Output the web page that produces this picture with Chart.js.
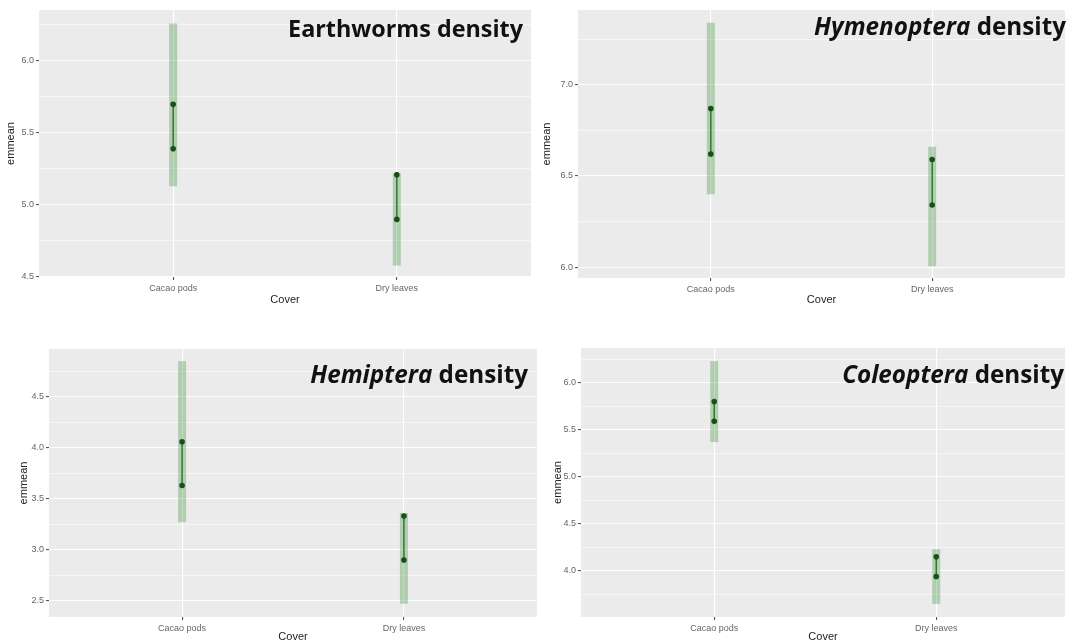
<!DOCTYPE html>
<html>
<head>
<meta charset="utf-8">
<script src="https://cdn.jsdelivr.net/npm/chart.js@4.4.1/dist/chart.umd.min.js"></script>
<style>
  html, body { margin: 0; padding: 0; background: #fff; }
  #wrap { position: relative; width: 1069px; height: 644px; overflow: hidden; }
  canvas { position: absolute; }
  .ttl { position: absolute; font-family: 'Open Sans', Lato, sans-serif; font-weight: bold; color: #111;
         white-space: nowrap; line-height: 1; }
  .ttl i { font-style: italic; }
</style>
</head>
<body>
<div id="wrap">
  <canvas id="c1" width="535" height="310" style="left:0;top:0"></canvas>
  <canvas id="c2" width="534" height="310" style="left:535px;top:0"></canvas>
  <canvas id="c3" width="541" height="334" style="left:0;top:310px"></canvas>
  <canvas id="c4" width="528" height="334" style="left:541px;top:310px"></canvas>
  <div class="ttl" id="t1">Earthworms density</div>
  <div class="ttl" id="t2"><i>Hymenoptera</i> density</div>
  <div class="ttl" id="t3"><i>Hemiptera</i> density</div>
  <div class="ttl" id="t4"><i>Coleoptera</i> density</div>
</div>
<script>
const categories = ['Cacao pods', 'Dry leaves'];

// confidence band (low / high) and comparison arrow ends per cover type
const earthwormsCiLow = [5.13, 4.58];
const earthwormsCiHigh = [6.26, 5.22];
const earthwormsArrowTop = [5.70, 5.21];
const earthwormsArrowBottom = [5.39, 4.90];
const earthwormsTicks = [4.5, 5.0, 5.5, 6.0];

const hymenopteraCiLow = [6.40, 6.005];
const hymenopteraCiHigh = [7.34, 6.66];
const hymenopteraArrowTop = [6.87, 6.59];
const hymenopteraArrowBottom = [6.62, 6.34];
const hymenopteraTicks = [6.0, 6.5, 7.0];

const hemipteraCiLow = [3.27, 2.47];
const hemipteraCiHigh = [4.85, 3.36];
const hemipteraArrowTop = [4.06, 3.33];
const hemipteraArrowBottom = [3.63, 2.90];
const hemipteraTicks = [2.5, 3.0, 3.5, 4.0, 4.5];

const coleopteraCiLow = [5.37, 3.65];
const coleopteraCiHigh = [6.23, 4.23];
const coleopteraArrowTop = [5.80, 4.15];
const coleopteraArrowBottom = [5.59, 3.94];
const coleopteraTicks = [4.0, 4.5, 5.0, 5.5, 6.0];

const axisFont = 'Liberation Sans, Arial, sans-serif';

const panelBg = {
  id: 'panelBg',
  beforeDraw(chart) {
    const { ctx, chartArea: a } = chart;
    ctx.save();
    ctx.fillStyle = '#ebebeb';
    ctx.fillRect(a.left, a.top, a.right - a.left, a.bottom - a.top);
    ctx.restore();
  }
};

function makePanel(id, cfg) {
  const majors = cfg.ticks;
  const step = majors[1] - majors[0];
  const minors = [majors[0] - step / 2].concat(majors.map(v => v + step / 2))
    .filter(v => v >= cfg.yMin && v <= cfg.yMax);
  const allTicks = majors.concat(minors).sort((a, b) => a - b);
  const isMajor = v => majors.some(m => Math.abs(m - v) < 1e-9);

  const datasets = [];
  categories.forEach((c, i) => {
    datasets.push({
      data: [{ x: i + 1, y: cfg.lo[i] }, { x: i + 1, y: cfg.hi[i] }],
      borderColor: 'rgba(40,135,40,0.3)',
      borderWidth: 8,
      borderCapStyle: 'butt',
      pointRadius: 0
    });
  });
  categories.forEach((c, i) => {
    datasets.push({
      data: [{ x: i + 1, y: cfg.bottom[i] }, { x: i + 1, y: cfg.top[i] }],
      borderColor: '#1d5a1d',
      borderWidth: 1.3,
      pointRadius: 2.8,
      pointBorderWidth: 0,
      pointBackgroundColor: '#113a11'
    });
  });

  return new Chart(document.getElementById(id), {
    type: 'line',
    data: { datasets },
    plugins: [panelBg],
    options: {
      responsive: false,
      animation: false,
      devicePixelRatio: 1,
      layout: { padding: { top: cfg.padTop, right: cfg.padRight, left: 0, bottom: 0 } },
      plugins: { legend: { display: false }, tooltip: { enabled: false } },
      scales: {
        x: {
          type: 'linear',
          min: 0.4,
          max: cfg.xMax,
          afterBuildTicks: s => { s.ticks = categories.map((c, i) => ({ value: i + 1 })); },
          afterFit: s => { s.height = cfg.xHeight; },
          ticks: {
            callback: v => categories[v - 1] || '',
            font: { family: axisFont, size: 9 },
            color: '#666',
            padding: 3,
            maxRotation: 0,
            autoSkip: false
          },
          grid: { color: '#ffffff', lineWidth: 1.1, tickLength: 3, tickColor: '#555' },
          border: { display: false },
          title: {
            display: true, text: 'Cover', color: '#222',
            font: { family: axisFont, size: 11 },
            padding: { top: 0, bottom: cfg.xTitlePad }
          }
        },
        y: {
          min: cfg.yMin,
          max: cfg.yMax,
          afterBuildTicks: s => { s.ticks = allTicks.map(v => ({ value: v })); },
          afterFit: s => { s.width = cfg.yWidth; },
          ticks: {
            callback: v => isMajor(v) ? v.toFixed(1) : '',
            font: { family: axisFont, size: 9 },
            color: '#666',
            padding: 2,
            autoSkip: false
          },
          grid: {
            color: '#ffffff',
            lineWidth: c => isMajor(c.tick.value) ? 1.1 : 0.55,
            tickLength: 3,
            tickColor: c => isMajor(c.tick.value) ? '#555' : 'rgba(0,0,0,0)'
          },
          border: { display: false },
          title: {
            display: true, text: 'emmean', color: '#222',
            font: { family: axisFont, size: 11 },
            padding: { top: cfg.yTitlePad, bottom: 0 }
          }
        }
      }
    }
  });
}

makePanel('c1', {
  lo: earthwormsCiLow, hi: earthwormsCiHigh, top: earthwormsArrowTop, bottom: earthwormsArrowBottom,
  ticks: earthwormsTicks, yMin: 4.5, yMax: 6.354, xMax: 2.6,
  yWidth: 39, xHeight: 33, padTop: 10, padRight: 3, yTitlePad: 4.4, xTitlePad: 3
});
makePanel('c2', {
  lo: hymenopteraCiLow, hi: hymenopteraCiHigh, top: hymenopteraArrowTop, bottom: hymenopteraArrowBottom,
  ticks: hymenopteraTicks, yMin: 5.94, yMax: 7.41, xMax: 2.6,
  yWidth: 43, xHeight: 32, padTop: 10, padRight: 3, yTitlePad: 5.4, xTitlePad: 3
});
makePanel('c3', {
  lo: hemipteraCiLow, hi: hemipteraCiHigh, top: hemipteraArrowTop, bottom: hemipteraArrowBottom,
  ticks: hemipteraTicks, yMin: 2.34, yMax: 4.97, xMax: 2.6,
  yWidth: 49, xHeight: 27, padTop: 39, padRight: 1, yTitlePad: 17.4, xTitlePad: 0
});
makePanel('c4', {
  lo: coleopteraCiLow, hi: coleopteraCiHigh, top: coleopteraArrowTop, bottom: coleopteraArrowBottom,
  ticks: coleopteraTicks, yMin: 3.51, yMax: 6.37, xMax: 2.58,
  yWidth: 40, xHeight: 27, padTop: 38, padRight: 0, yTitlePad: 10, xTitlePad: 0
});

// panel headings: left/right edge and baseline
function placeTitle(id, left, right, baseline) {
  const el = document.getElementById(id);
  el.style.left = '0px';
  el.style.top = '0px';
  el.style.fontSize = '100px';
  const w = el.getBoundingClientRect().width;
  el.style.fontSize = (100 * (right - left) / w) + 'px';
  const probe = document.createElement('span');
  probe.style.display = 'inline-block';
  probe.style.width = '0';
  probe.style.height = '0';
  el.appendChild(probe);
  const base = probe.getBoundingClientRect().top - el.getBoundingClientRect().top;
  const w2 = el.getBoundingClientRect().width;
  el.style.left = (right - w2) + 'px';
  el.style.top = (baseline - base) + 'px';
}
placeTitle('t1', 288, 523, 37);
placeTitle('t2', 814, 1066, 35);
placeTitle('t3', 310, 528, 383);
placeTitle('t4', 842, 1064, 383);
</script>
</body>
</html>
